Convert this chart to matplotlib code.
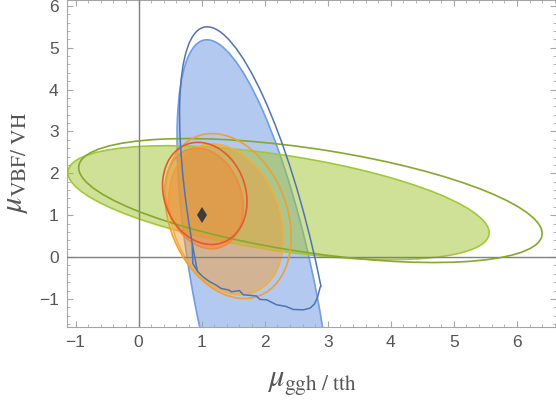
import numpy as np
import matplotlib
matplotlib.use("Agg")
import matplotlib.pyplot as plt
from matplotlib.patches import Ellipse, Polygon
from matplotlib.ticker import MultipleLocator

plt.rcParams['font.family'] = ['Liberation Sans', 'DejaVu Sans']
plt.rcParams['mathtext.fontset'] = 'stix'

# confidence regions, approximated as ellipses:
# centre (cx, cy), half extent in x and y (sx, sy) and the x-y covariance term
ell_names = ["blue_fill", "green_fill", "orange_fill", "red_fill",
             "blue_line", "green_line", "orange_line", "red_line"]
ell_cx = [1.86, 2.22, 1.39, 1.04, 1.91, 2.725, 1.42, 1.05]
ell_cy = [-1.00, 1.30, 0.90, 1.40, -0.50, 1.35, 0.98, 1.52]
ell_sx = [1.25, 3.34, 0.91, 0.62, 1.26, 3.675, 1.00, 0.67]
ell_sy = [6.19, 1.36, 1.80, 1.20, 6.00, 1.48, 1.97, 1.22]
ell_cxy = [-4.80, -2.40, -0.40, -0.14, -4.93, -2.89, -0.50, -0.13]

# lower (jagged) part of the dark blue contour
step_x = [0.85, 0.86, 0.94, 1.02, 1.12, 1.23, 1.31, 1.44, 1.47, 1.60, 1.66,
          1.87, 1.92, 2.03, 2.19, 2.34, 2.45, 2.61, 2.72, 2.79, 2.84, 2.88]
step_y = [0.30, -0.15, -0.35, -0.47, -0.58, -0.67, -0.75, -0.79, -0.83, -0.80, -0.90,
          -0.93, -1.01, -1.02, -1.14, -1.18, -1.25, -1.26, -1.22, -1.12, -0.95, -0.72]

best_fit = (1.0, 1.0)

xlabel = r'$\mu_{\mathrm{ggh\ /\ tth}}$'
ylabel = r'$\mu_{\mathrm{VBF/\ VH}}$'


def cov_ellipse(i, **kw):
    cov = np.array([[ell_sx[i] ** 2, ell_cxy[i]], [ell_cxy[i], ell_sy[i] ** 2]])
    vals, vecs = np.linalg.eigh(cov)
    angle = np.degrees(np.arctan2(vecs[1, 1], vecs[0, 1]))
    return Ellipse((ell_cx[i], ell_cy[i]), 2 * np.sqrt(vals[1]), 2 * np.sqrt(vals[0]),
                   angle=angle, **kw)


fig = plt.figure(figsize=(5.56, 4.04), dpi=100)
ax = fig.add_axes([67 / 556, 77 / 404, 489 / 556, 327 / 404])
ax.set_xlim(-1.135, 6.62)
ax.set_ylim(-1.67, 6.14)

idx = {n: i for i, n in enumerate(ell_names)}

# filled regions
ax.add_patch(cov_ellipse(idx["blue_fill"], facecolor='#6995e1', alpha=0.5, lw=0, zorder=1))
ax.add_patch(cov_ellipse(idx["blue_fill"], facecolor='none', edgecolor='#6f9fe3', lw=1.2, zorder=1.1))
ax.add_patch(cov_ellipse(idx["green_fill"], facecolor='#a1c531', alpha=0.5, lw=0, zorder=2))
ax.add_patch(cov_ellipse(idx["green_fill"], facecolor='none', edgecolor='#a3c83a', lw=1.2, zorder=2.1))
ax.add_patch(cov_ellipse(idx["orange_fill"], facecolor='#f2a03a', alpha=0.5, lw=0, zorder=3))
ax.add_patch(cov_ellipse(idx["orange_fill"], facecolor='none', edgecolor='#f7ad3c', lw=1.2, zorder=3.1))
ax.add_patch(cov_ellipse(idx["red_fill"], facecolor='#f08a35', alpha=0.5, lw=0, zorder=4))
ax.add_patch(cov_ellipse(idx["red_fill"], facecolor='none', edgecolor='#f08a40', lw=1.2, zorder=4.1))

# outline-only regions
ax.add_patch(cov_ellipse(idx["green_line"], facecolor='none', edgecolor='#84a92b', lw=1.2, zorder=5))
ax.add_patch(cov_ellipse(idx["orange_line"], facecolor='none', edgecolor='#f0a030', lw=1.2, zorder=5))
ax.add_patch(cov_ellipse(idx["red_line"], facecolor='none', edgecolor='#e8582c', lw=1.2, zorder=5))

blue_line = cov_ellipse(idx["blue_line"], facecolor='none', edgecolor='#4f74b3', lw=1.1, zorder=5)
ax.add_patch(blue_line)
clip = Polygon([(-5, 10), (-5, step_y[0])] + list(zip(step_x, step_y)) + [(10, step_y[-1]), (10, 10)],
               closed=True, transform=ax.transData)
blue_line.set_clip_path(clip)
ax.plot(step_x, step_y, color='#4f74b3', lw=1.1, zorder=5)

ax.plot(*best_fit, marker='d', markersize=8, color='#3c3c3c', zorder=6, markeredgewidth=0)

# axes through the origin
ax.axhline(0, color='#808080', lw=1, zorder=4.5)
ax.axvline(0, color='#808080', lw=1, zorder=4.5)

for s in ax.spines.values():
    s.set_color('#a6a6a6')
ax.xaxis.set_major_locator(MultipleLocator(1))
ax.xaxis.set_minor_locator(MultipleLocator(0.2))
ax.yaxis.set_major_locator(MultipleLocator(1))
ax.yaxis.set_minor_locator(MultipleLocator(0.2))
ax.tick_params(which='both', direction='in', top=True, right=True, color='#a6a6a6',
               labelcolor='#555555', labelsize=12.5)
ax.tick_params(which='major', length=4.5, width=0.8, pad=6)
ax.tick_params(which='minor', length=2.5, width=0.6)

ax.set_xlabel(xlabel, fontsize=22, color='#555555', labelpad=13)
ax.set_ylabel(ylabel, fontsize=22, color='#555555', labelpad=6)

fig.savefig('out.png', dpi=100)
